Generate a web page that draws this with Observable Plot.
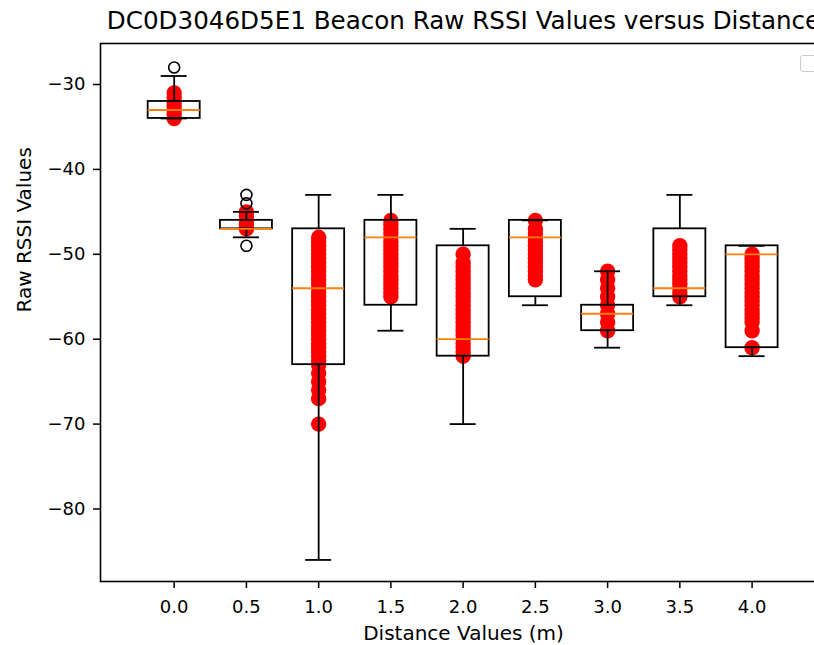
<!DOCTYPE html>
<html>
<head>
<meta charset="utf-8">
<script src="https://cdn.jsdelivr.net/npm/d3@7"></script>
<script src="https://cdn.jsdelivr.net/npm/@observablehq/plot@0.6"></script>
<style>
  html, body { margin: 0; padding: 0; background: #fff; overflow: hidden; }
  #chart { position: relative; width: 814px; height: 645px; overflow: hidden; }
  #chart svg { max-width: none !important; }
  #legend { position: absolute; left: 800px; top: 55px; width: 30px; height: 15px;
            border: 1px solid #cccccc; border-radius: 3px; background: #fff; }
</style>
</head>
<body>
<div id="chart"><div id="legend"></div></div>
<script>
// Beacon DC0D3046D5E1: raw RSSI readings collected at each test distance
const title = "DC0D3046D5E1 Beacon Raw RSSI Values versus Distance";
const distances = [0.0, 0.5, 1.0, 1.5, 2.0, 2.5, 3.0, 3.5, 4.0];

// box-plot summary per distance
const q1 =          [-34, -47, -63, -56, -62, -55, -59, -55, -61];
const medians =     [-33, -47, -54, -48, -60, -48, -57, -54, -50];
const q3 =          [-32, -46, -47, -46, -49, -46, -56, -47, -49];
const whiskerLow =  [-34, -48, -86, -59, -70, -56, -61, -56, -62];
const whiskerHigh = [-29, -45, -43, -43, -47, -46, -52, -43, -49];

// fliers
const outlierDistances = [0.0, 0.5, 0.5, 0.5];
const outlierValues =    [-28, -43, -44, -49];

// individual readings overlaid on each box
const readings = [
  [-31, -31.5, -32, -32.5, -33, -33.5, -34],
  [-45, -45.5, -46, -46.5, -47],
  [-48, -48.5, -49, -49.5, -50, -50.5, -51, -51.5, -52, -52.5, -53, -53.5, -54, -54.5, -55, -55.5,
   -56, -56.5, -57, -57.5, -58, -58.5, -59, -59.5, -60, -60.5, -61, -61.5, -62, -62.5, -63,
   -64, -65, -66, -67, -70],
  [-46, -46.5, -47, -47.5, -48, -48.5, -49, -49.5, -50, -50.5, -51, -51.5, -52, -52.5, -53, -53.5, -54, -54.5, -55],
  [-50, -51, -51.5, -52, -52.5, -53, -53.5, -54, -54.5, -55, -55.5, -56, -56.5, -57, -57.5, -58, -58.5,
   -59, -59.5, -60, -60.5, -61, -61.5, -62],
  [-46, -47, -47.5, -48, -48.5, -49, -49.5, -50, -50.5, -51, -51.5, -52, -52.5, -53],
  [-52, -53, -54, -55, -56, -57, -58, -59],
  [-49, -49.5, -50, -50.5, -51, -51.5, -52, -52.5, -53, -53.5, -54, -54.5, -55],
  [-50, -50.5, -51, -51.5, -52, -52.5, -53, -53.5, -54, -54.5, -55, -55.5, -56, -56.5, -57, -57.5, -58, -59, -61]
];

const yTicks = [-30, -40, -50, -60, -70, -80];
const xTicks = distances;

const boxes = distances.map((d, i) => ({
  d, q1: q1[i], median: medians[i], q3: q3[i], lo: whiskerLow[i], hi: whiskerHigh[i]
}));
const points = distances.flatMap((d, i) => readings[i].map(v => ({d, v})));
const fliers = outlierDistances.map((d, i) => ({d, v: outlierValues[i]}));

const halfBox = 0.18;
const halfCap = 0.09;
const minus = v => v < 0 ? "\u2212" + Math.abs(v) : String(v);

const chart = Plot.plot({
  width: 840,
  height: 645,
  marginLeft: 100,
  marginRight: 14,
  marginTop: 43,
  marginBottom: 64,
  style: {fontFamily: "DejaVu Sans", fontSize: "18px", color: "black", background: "white", overflow: "visible"},
  x: {domain: [-0.51, 4.515], label: null},
  y: {domain: [-88.54, -25.17], label: null},
  marks: [
    Plot.dot(points, {x: "d", y: "v", r: 7.7, fill: "#ff0000", stroke: "none"}),
    Plot.rect(boxes, {x1: b => b.d - halfBox, x2: b => b.d + halfBox, y1: "q1", y2: "q3",
                      fill: "none", stroke: "black", strokeWidth: 1.8}),
    Plot.ruleX(boxes, {x: "d", y1: "q3", y2: "hi", stroke: "black", strokeWidth: 1.8}),
    Plot.ruleX(boxes, {x: "d", y1: "lo", y2: "q1", stroke: "black", strokeWidth: 1.8}),
    Plot.ruleY(boxes, {y: "hi", x1: b => b.d - halfCap, x2: b => b.d + halfCap, stroke: "black", strokeWidth: 1.8}),
    Plot.ruleY(boxes, {y: "lo", x1: b => b.d - halfCap, x2: b => b.d + halfCap, stroke: "black", strokeWidth: 1.8}),
    Plot.ruleY(boxes, {y: "median", x1: b => b.d - halfBox, x2: b => b.d + halfBox, stroke: "#ff7f0e", strokeWidth: 1.8}),
    Plot.dot(fliers, {x: "d", y: "v", r: 5.5, fill: "none", stroke: "black", strokeWidth: 1.6}),
    Plot.frame({stroke: "black", strokeWidth: 1.6}),
    Plot.axisY({ticks: yTicks, tickFormat: minus, tickSize: 7, tickPadding: 8, strokeWidth: 1.5, fontSize: 18, label: null}),
    Plot.axisX({ticks: xTicks, tickFormat: d => d.toFixed(1), tickSize: 7, tickPadding: 12, strokeWidth: 1.5, fontSize: 18, label: null}),
    Plot.text([title], {frameAnchor: "top", lineAnchor: "bottom", dy: -14.7, fontSize: 24.6, fill: "black"}),
    Plot.text(["Distance Values (m)"], {frameAnchor: "bottom", lineAnchor: "middle", dy: 52, fontSize: 20, fill: "black"}),
    Plot.text(["Raw RSSI Values"], {frameAnchor: "left", lineAnchor: "middle", dx: -76, rotate: -90, fontSize: 20, fill: "black"})
  ]
});

chart.style.position = "absolute";
chart.style.left = "0px";
chart.style.top = "0px";
chart.style.maxWidth = "none";
const host = document.getElementById("chart");
host.insertBefore(chart, host.firstChild);
</script>
</body>
</html>
